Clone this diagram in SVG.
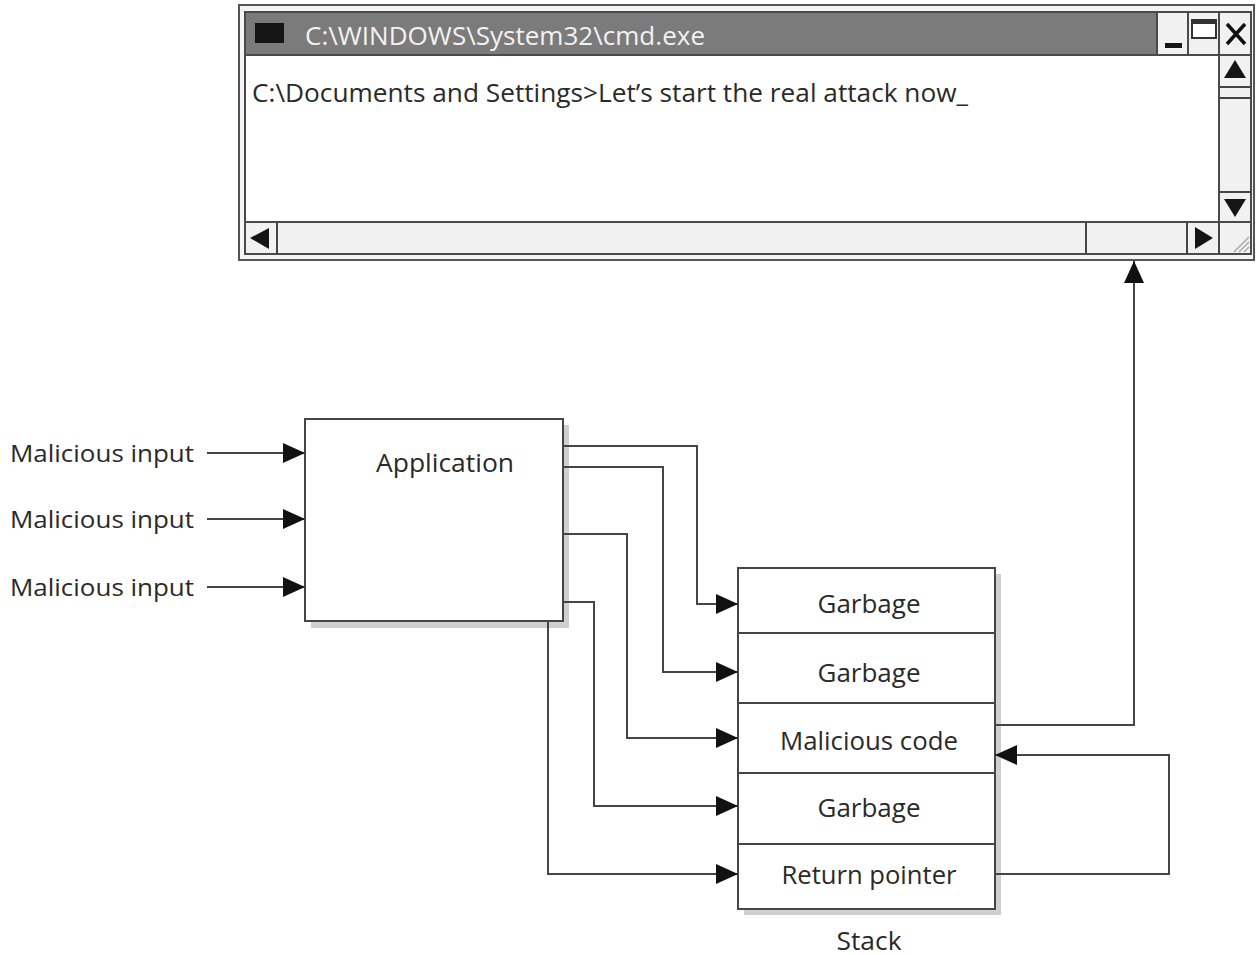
<svg xmlns="http://www.w3.org/2000/svg" width="1256" height="955" viewBox="0 0 1256 955">
<style>
.t{font-family:"Open Sans","Noto Sans","Liberation Sans",sans-serif;fill:#2a2a2a}
.box{fill:#fff;stroke:#454545;stroke-width:2}
.sh{fill:#cfcfcf}
.ln{fill:none;stroke:#454545;stroke-width:2}
.wf{fill:#f1f1f1;stroke:#4a4a4a;stroke-width:2}
.blk{fill:#151515}
</style>
<defs>
<marker id="ah" markerUnits="userSpaceOnUse" viewBox="0 0 22 20" refX="22" refY="10" markerWidth="22" markerHeight="20" orient="auto">
<path d="M0,0 L22,10 L0,20 Z" fill="#111"/>
</marker>
</defs>
<rect width="1256" height="955" fill="#fff"/>

<g id="cmd-window">
<rect x="239" y="5" width="1015" height="255" fill="#f5f5f5" stroke="#555" stroke-width="2"/>
<rect x="245" y="12" width="1006" height="242" fill="#fff" stroke="#4a4a4a" stroke-width="2"/>
<rect x="245" y="12" width="912" height="43" fill="#7b7b7b" stroke="#4a4a4a" stroke-width="2"/>
<rect x="255" y="23" width="29" height="20" class="blk"/>
<text x="305" y="45" class="t" font-size="26" fill="#f2f2f2" style="fill:#f2f2f2" textLength="400" lengthAdjust="spacingAndGlyphs">C:\WINDOWS\System32\cmd.exe</text>
<rect x="1157" y="12" width="31" height="43" class="wf"/>
<rect x="1165" y="43" width="17" height="5" class="blk"/>
<rect x="1188" y="12" width="31" height="43" class="wf"/>
<rect x="1192" y="20" width="24" height="18" fill="#fff" stroke="#333" stroke-width="2"/>
<rect x="1192" y="20" width="24" height="4" fill="#333"/>
<rect x="1219" y="12" width="32" height="43" class="wf"/>
<path d="M1227,24 L1245,44 M1245,24 L1227,44" stroke="#111" stroke-width="3.5" fill="none"/>
<rect x="1219" y="55" width="32" height="167" class="wf"/>
<path d="M1219,87 H1251 M1219,98 H1251 M1219,192 H1251" class="ln"/>
<path d="M1235,60 L1246,78 L1224,78 Z" class="blk"/>
<path d="M1224,199 L1246,199 L1235,217 Z" class="blk"/>
<text x="252" y="102" class="t" font-size="25" textLength="716" lengthAdjust="spacingAndGlyphs">C:\Documents and Settings&gt;Let’s start the real attack now_</text>
<rect x="245" y="222" width="1006" height="32" class="wf"/>
<path d="M277,222 V254 M1086,222 V254 M1187,222 V254 M1219,222 V254" class="ln"/>
<path d="M250,238 L269,228 L269,249 Z" class="blk"/>
<path d="M1195,227 L1213,238 L1195,249 Z" class="blk"/>
<path d="M1234,252 L1249,237 M1239,252 L1249,242 M1244,252 L1249,247" stroke="#aaa" stroke-width="1.5" fill="none"/>
</g>

<g id="inputs">
<text x="10" y="462" class="t" font-size="24" textLength="184" lengthAdjust="spacingAndGlyphs">Malicious input</text>
<text x="10" y="528" class="t" font-size="24" textLength="184" lengthAdjust="spacingAndGlyphs">Malicious input</text>
<text x="10" y="596" class="t" font-size="24" textLength="184" lengthAdjust="spacingAndGlyphs">Malicious input</text>
</g>

<g id="application">
<rect x="311" y="425" width="258" height="203" class="sh"/>
<rect x="305" y="419" width="258" height="202" class="box"/>
<text x="445" y="472" class="t" font-size="25" text-anchor="middle" textLength="138" lengthAdjust="spacingAndGlyphs">Application</text>
</g>

<g id="stack">
<rect x="744" y="574" width="257" height="341" class="sh"/>
<rect x="738" y="568" width="257" height="341" class="box"/>
<path d="M738,633 H995 M738,703 H995 M738,773 H995 M738,844 H995" class="ln"/>
<text x="869" y="613" class="t" font-size="25" text-anchor="middle" textLength="103" lengthAdjust="spacingAndGlyphs">Garbage</text>
<text x="869" y="682" class="t" font-size="25" text-anchor="middle" textLength="103" lengthAdjust="spacingAndGlyphs">Garbage</text>
<text x="869" y="750" class="t" font-size="25" text-anchor="middle" textLength="178" lengthAdjust="spacingAndGlyphs">Malicious code</text>
<text x="869" y="817" class="t" font-size="25" text-anchor="middle" textLength="103" lengthAdjust="spacingAndGlyphs">Garbage</text>
<text x="869" y="884" class="t" font-size="25" text-anchor="middle" textLength="175" lengthAdjust="spacingAndGlyphs">Return pointer</text>
<text x="869" y="950" class="t" font-size="25" text-anchor="middle" textLength="65" lengthAdjust="spacingAndGlyphs">Stack</text>
</g>

<g id="connectors">
<path d="M207,453 H305" class="ln" marker-end="url(#ah)"/>
<path d="M207,519 H305" class="ln" marker-end="url(#ah)"/>
<path d="M207,587 H305" class="ln" marker-end="url(#ah)"/>
<path d="M563,446 H697 V604 H738" class="ln" marker-end="url(#ah)"/>
<path d="M563,467 H663 V672 H738" class="ln" marker-end="url(#ah)"/>
<path d="M563,534 H627 V738 H738" class="ln" marker-end="url(#ah)"/>
<path d="M563,602 H594 V806 H738" class="ln" marker-end="url(#ah)"/>
<path d="M548,621 V874 H738" class="ln" marker-end="url(#ah)"/>
<path d="M995,725 H1134 V261" class="ln" marker-end="url(#ah)"/>
<path d="M995,874 H1169 V755 H995" class="ln" marker-end="url(#ah)"/>
</g>
</svg>
